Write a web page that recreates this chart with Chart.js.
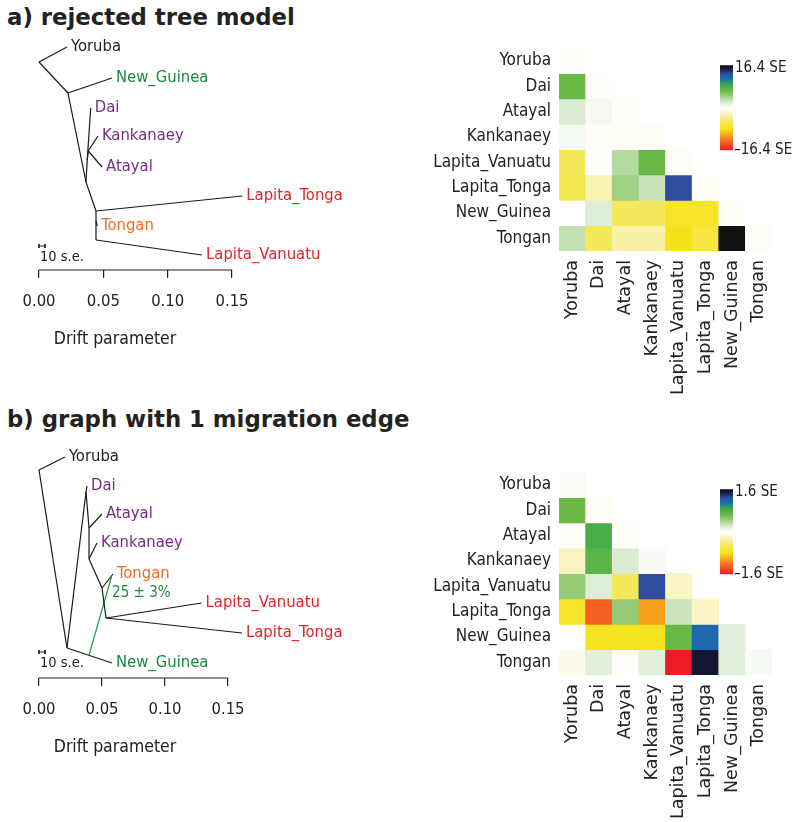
<!DOCTYPE html>
<html><head><meta charset="utf-8">
<script src="https://cdn.jsdelivr.net/npm/chart.js@4.4.1/dist/chart.umd.min.js"></script>
<style>
html,body{margin:0;padding:0;background:#fff;}
body{width:800px;height:822px;position:relative;overflow:hidden;font-family:"DejaVu Sans",sans-serif;}
.title{position:absolute;left:7px;font-family:"DejaVu Sans";font-weight:bold;font-size:22.8px;color:#222;white-space:nowrap;line-height:1;}
canvas{position:absolute;}
</style></head><body>
<div class="title" style="top:6px">a) rejected tree model</div>
<div class="title" style="top:408px">b) graph with 1 migration edge</div>
<canvas id="treeA" width="450" height="340" style="left:-20px;top:30px"></canvas>
<canvas id="heatA" width="370" height="380" style="left:430px;top:30px"></canvas>
<canvas id="treeB" width="450" height="340" style="left:-20px;top:438px"></canvas>
<canvas id="heatB" width="370" height="380" style="left:430px;top:454px"></canvas>
<script>
// ---------------- data ----------------
const populations = ['Yoruba','Dai','Atayal','Kankanaey','Lapita_Vanuatu','Lapita_Tonga','New_Guinea','Tongan'];
const driftTicks = [0, 0.05, 0.10, 0.15];
const residualMaxA = 16.4;
const residualMaxB = 1.6;
// lower triangle (incl. diagonal) of residual fits, in SE units
const residualsA = [
  [-0.2],
  [6.6, -0.2],
  [2.0, 0.6, -0.2],
  [0.5, -0.3, -0.3, -0.3],
  [-5.6, -0.2, 3.6, 6.6, -0.3],
  [-6.0, -2.8, 4.4, 2.8, 13.1, -0.3],
  [0.0, 1.8, -5.4, -5.4, -7.6, -7.6, -0.3],
  [3.0, -5.6, -3.2, -3.2, -8.2, -6.6, 16.4, -0.3]
];
const residualsB = [
  [0.03],
  [0.64, -0.03],
  [-0.02, 0.80, -0.03],
  [-0.24, 0.72, 0.20, 0.04],
  [0.48, 0.18, -0.54, 1.28, -0.22],
  [-0.74, -1.30, 0.48, -1.05, 0.26, -0.22],
  [0.00, -0.78, -0.78, -0.78, 0.66, 1.12, 0.16],
  [-0.08, 0.16, -0.02, 0.16, -1.60, 1.52, 0.16, 0.05]
];
// tree a: node -> [drift, vertical layout position]
const treeANodes = {
  root:[0,32], Yoruba:[0.0218,17], nA:[0.0225,63], New_Guinea:[0.0567,48],
  nB:[0.0365,152], nC:[0.0375,130], Dai:[0.0402,78], nKA:[0.0383,121],
  Kankanaey:[0.0458,106], Atayal:[0.0490,137], nD:[0.0443,181],
  Lapita_Tonga:[0.1580,166], nM:[0.0443,191], Tongan:[0.0452,196],
  nE:[0.0443,210], Lapita_Vanuatu:[0.1267,225]
};
const treeAEdges = [['root','Yoruba'],['root','nA'],['nA','New_Guinea'],['nA','nB'],['nB','nC'],
  ['nC','Dai'],['nC','nKA'],['nKA','Kankanaey'],['nKA','Atayal'],['nB','nD'],['nD','Lapita_Tonga'],
  ['nD','nM'],['nM','Tongan'],['nM','nE'],['nE','Lapita_Vanuatu']];
// tree b
const treeBNodes = {
  root:[0,32], Yoruba:[0.0206,19], nN:[0.0222,210], New_Guinea:[0.0579,225],
  nX:[0.0373,54], Dai:[0.0381,48], nY:[0.0397,90], Atayal:[0.0500,76],
  nZ:[0.0397,121], Kankanaey:[0.0460,105], nW:[0.0500,150], Tongan:[0.0587,136],
  nV:[0.0532,180], Lapita_Vanuatu:[0.1290,165], Lapita_Tonga:[0.1611,195]
};
const treeBEdges = [['root','Yoruba'],['root','nN'],['nN','New_Guinea'],['nN','nX'],['nX','Dai'],
  ['nX','nY'],['nY','Atayal'],['nY','nZ'],['nZ','Kankanaey'],['nZ','nW'],['nW','Tongan'],
  ['nW','nV'],['nV','Lapita_Vanuatu'],['nV','Lapita_Tonga']];
const migrationB = {from:[0.0397,217], to:[0.0575,139], label:'25 ± 3%', labelAt:[0.0580,155]};
const seBarDrift = 0.0047; // 10 s.e.

// ---------------- styles ----------------
const popColors = {Yoruba:'#222222', New_Guinea:'#1b8a40', Dai:'#7b2a88', Kankanaey:'#7b2a88', Atayal:'#7b2a88',
  Tongan:'#f26b21', Lapita_Tonga:'#e3232c', Lapita_Vanuatu:'#e3232c'};
const colorStops = [[-1.0,'#ed1c24'],[-0.8,'#f26522'],[-0.65,'#f7a21b'],[-0.5,'#f5e31a'],[-0.3,'#f4ea6a'],
  [-0.15,'#faf4c0'],[0,'#ffffff'],[0.12,'#dcecd5'],[0.25,'#a8d48e'],[0.4,'#6ab947'],[0.55,'#39a94a'],
  [0.68,'#1a6fb0'],[0.8,'#2e4c9e'],[0.92,'#151a48'],[1.0,'#111111']];
const COND = '"DejaVu Sans Condensed", "DejaVu Sans"';
const TXT = '#222222';

function hex2rgb(h){return [parseInt(h.slice(1,3),16),parseInt(h.slice(3,5),16),parseInt(h.slice(5,7),16)];}
function colorFor(t){
  t = Math.max(-1, Math.min(1, t));
  for (let i=0;i<colorStops.length-1;i++){
    const [t0,c0]=colorStops[i],[t1,c1]=colorStops[i+1];
    if (t>=t0 && t<=t1){
      const f=(t-t0)/(t1-t0), a=hex2rgb(c0), b=hex2rgb(c1);
      return 'rgb('+a.map((v,k)=>Math.round(v+(b[k]-v)*f)).join(',')+')';
    }
  }
  return colorStops[colorStops.length-1][1];
}

// ---------------- tree charts ----------------
const treeLabelPlugin = {
  id:'treeLabels',
  afterDatasetsDraw(chart, args, o){
    const {ctx, scales:{x,y}} = chart;
    ctx.save();
    ctx.textBaseline='middle'; ctx.textAlign='left';
    ctx.font = '16.5px '+COND;
    o.leaves.forEach(n=>{
      const [d,v]=o.nodes[n];
      ctx.fillStyle = popColors[n];
      ctx.fillText(n, x.getPixelForValue(d)+4, y.getPixelForValue(v));
    });
    ctx.font = '14.5px '+COND; ctx.fillStyle = TXT;
    ctx.fillText('10 s.e.', x.getPixelForValue(0)+1, y.getPixelForValue(o.seY+11));
    if (o.mig){
      ctx.font = '15px '+COND; ctx.fillStyle = popColors.New_Guinea;
      ctx.fillText(o.mig.label, x.getPixelForValue(o.mig.labelAt[0]), y.getPixelForValue(o.mig.labelAt[1]));
    }
    ctx.restore();
  }
};

function seg(p, q, color, w){
  return {data:[{x:p[0],y:p[1]},{x:q[0],y:q[1]}], showLine:true, borderColor:color||'#1a1a1a',
    borderWidth:w||1.2, pointRadius:0, clip:false};
}

function makeTree(id, nodes, edges, mig, xMin, xMax, seY){
  const datasets = edges.map(([a,b])=>seg(nodes[a],nodes[b]));
  if (mig) datasets.push(seg(mig.from, mig.to, '#1b9a4a', 1.2));
  datasets.push(seg([0,seY],[seBarDrift,seY],'#222',1));
  datasets.push(seg([0,seY-2],[0,seY+2],'#222',1));
  datasets.push(seg([seBarDrift,seY-2],[seBarDrift,seY+2],'#222',1));
  datasets.push(seg([driftTicks[0],240],[driftTicks[driftTicks.length-1],240],'#222',1.2));
  const leaves = populations.filter(p=>nodes[p]);
  new Chart(document.getElementById(id), {
    type:'scatter',
    data:{datasets},
    options:{
      responsive:false, animation:false,
      layout:{padding:{left:0,right:180,top:0,bottom:0}, autoPadding:false},
      plugins:{legend:{display:false}, tooltip:{enabled:false},
        treeLabels:{nodes, leaves, mig, seY}},
      scales:{
        x:{type:'linear', min:xMin, max:xMax,
          afterBuildTicks:s=>{s.ticks=driftTicks.map(v=>({value:v}));},
          afterFit:s=>{s.height=100;},
          ticks:{autoSkip:false, callback:v=>Number(v).toFixed(2), font:{family:COND,size:16.5}, color:TXT, padding:14, maxRotation:0},
          grid:{drawOnChartArea:false, drawTicks:true, tickLength:8, color:'#222', lineWidth:1.2},
          border:{display:false},
          title:{display:true, text:'Drift parameter', font:{family:COND,size:17.5}, color:TXT, padding:{top:0,bottom:20}}
        },
        y:{type:'linear', display:false, min:0, max:240, reverse:true}
      }
    },
    plugins:[treeLabelPlugin]
  });
}

// ---------------- heatmaps ----------------
const colorbarPlugin = {
  id:'colorbar',
  afterDraw(chart, args, o){
    const {ctx, chartArea:ca} = chart;
    const x0 = ca.left+161, y0 = ca.top+17, w=13, h=85;
    const g = ctx.createLinearGradient(0, y0+h, 0, y0);
    colorStops.forEach(([t,c])=>g.addColorStop((t+1)/2, c));
    ctx.save();
    ctx.fillStyle = g; ctx.fillRect(x0,y0,w,h);
    ctx.font = '15px '+COND; ctx.fillStyle = TXT; ctx.textBaseline='middle'; ctx.textAlign='left';
    ctx.fillText(o.max+' SE', x0+w+2, y0+3);
    ctx.fillText('\u2013'+o.max+' SE', x0+w+1, y0+h);
    ctx.restore();
  }
};

function makeHeat(id, residuals, maxSE){
  const datasets = populations.map((rowName, r)=>({
    label: rowName,
    data: populations.map((_, c)=> c<=r ? [r, r+1] : null),
    backgroundColor: populations.map((_, c)=> c<=r ? colorFor(residuals[r][c]/maxSE) : 'rgba(0,0,0,0)'),
    borderWidth:0, grouped:false, barPercentage:1, categoryPercentage:1
  }));
  new Chart(document.getElementById(id), {
    type:'bar',
    data:{labels:populations, datasets},
    options:{
      responsive:false, animation:false,
      layout:{padding:{left:0,right:28,top:13,bottom:0}},
      plugins:{legend:{display:false}, tooltip:{enabled:false}, colorbar:{max:maxSE}},
      scales:{
        x:{type:'category', afterFit:s=>{s.height=159;},
          ticks:{minRotation:90, maxRotation:90, autoSkip:false, font:{family:'DejaVu Sans',size:17.5}, color:TXT, padding:9},
          grid:{display:false, drawTicks:false}, border:{display:false}},
        y:{type:'linear', min:0, max:populations.length, reverse:true,
          afterBuildTicks:s=>{s.ticks=populations.map((_,i)=>({value:i+0.5}));},
          afterFit:s=>{s.width=129;},
          ticks:{autoSkip:false, callback:v=>populations[Math.round(v-0.5)], font:{family:COND,size:17}, color:TXT, padding:8},
          grid:{display:false, drawTicks:false}, border:{display:false}}
      }
    },
    plugins:[colorbarPlugin]
  });
}

makeTree('treeA', treeANodes, treeAEdges, null, -0.04585, 0.16399, 216);
makeTree('treeB', treeBNodes, treeBEdges, migrationB, -0.04683, 0.16746, 214);
makeHeat('heatA', residualsA, residualMaxA);
makeHeat('heatB', residualsB, residualMaxB);
</script>
</body></html>
